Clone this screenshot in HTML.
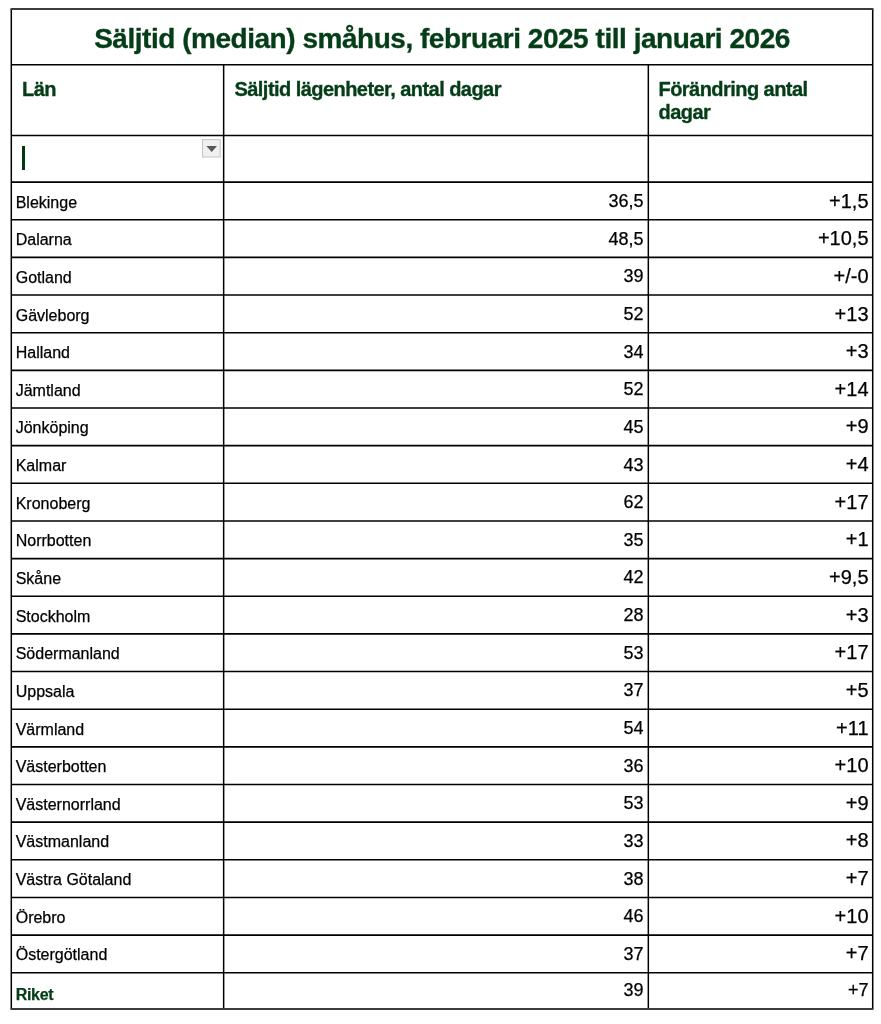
<!DOCTYPE html>
<html lang="sv">
<head>
<meta charset="utf-8">
<title>Säljtid (median) småhus, februari 2025 till januari 2026</title>
<style>
html,body{margin:0;padding:0;background:#fff;}
body{width:881px;height:1024px;overflow:hidden;position:relative;font-family:"Liberation Sans",Arial,sans-serif;color:#000;}
table{position:absolute;left:11px;top:9px;border-collapse:collapse;border-spacing:0;table-layout:fixed;width:862px;}
td,th{border:0;padding:0;margin:0;vertical-align:top;overflow:visible;white-space:nowrap;}
col.c1{width:212.5px}
col.c2{width:425px}
col.c3{width:224.5px}
td div,th div{line-height:20px;}
.title th{height:55.7px;font-size:28px;font-weight:bold;color:#043d17;letter-spacing:-0.47px;text-align:center;}
.title th div{padding-top:19.6px;}
.head th{height:70.8px;font-size:20px;font-weight:bold;color:#043d17;text-align:left;letter-spacing:-0.55px;}
.head th div{padding:13px 0 0 11px;line-height:23px;}
.head th.h3 div{padding-left:10px;}
.filter td{height:46.6px;position:relative;}
.cursor{position:absolute;left:11.1px;top:10.5px;width:3.3px;height:24px;background:#03380f;}
.dd{position:absolute;left:189px;top:1.5px;width:24px;height:24px;}
tr.r td{height:37.65px;}
tr.riket td{height:36.25px;}
td.n{font-size:16px;padding-left:4.7px;}
td.a{font-size:18px;text-align:right;padding-right:5px;}
td.b{font-size:20px;text-align:right;padding-right:4.5px;}
td.n div{padding-top:10.5px;}
td.a div{padding-top:9px;}
td.b div{padding-top:8.5px;}
tr.riket td.n{font-weight:bold;color:#043d17;letter-spacing:-0.3px;}
tr.riket td.b{font-size:18px;}
tr.riket td.n div{padding-top:12px;}
tr.riket td.a div,tr.riket td.b div{padding-top:7px;}
.title th,.head th{-webkit-text-stroke:0.35px currentColor;}
tr.r td{-webkit-text-stroke:0.25px currentColor;}
svg.grid{position:absolute;left:0;top:0;width:881px;height:1024px;pointer-events:none;}
</style>
</head>
<body>
<table>
<colgroup><col class="c1"><col class="c2"><col class="c3"></colgroup>
<tr class="title"><th colspan="3"><div>Säljtid (median) småhus, februari 2025 till januari 2026</div></th></tr>
<tr class="head"><th><div>Län</div></th><th><div>Säljtid lägenheter, antal dagar</div></th><th class="h3"><div>Förändring antal<br>dagar</div></th></tr>
<tr class="filter"><td><span class="cursor"></span><svg class="dd" viewBox="0 0 24 24"><rect x="2.5" y="2.6" width="17.7" height="17.4" fill="#f0f0f0" stroke="#c4c4c4" stroke-width="1"/><polygon points="6.4,8.9 17,8.9 11.7,15" fill="#585858"/></svg></td><td></td><td></td></tr>
<tr class="r"><td class="n"><div>Blekinge</div></td><td class="a"><div>36,5</div></td><td class="b"><div>+1,5</div></td></tr>
<tr class="r"><td class="n"><div>Dalarna</div></td><td class="a"><div>48,5</div></td><td class="b"><div>+10,5</div></td></tr>
<tr class="r"><td class="n"><div>Gotland</div></td><td class="a"><div>39</div></td><td class="b"><div>+/-0</div></td></tr>
<tr class="r"><td class="n"><div>Gävleborg</div></td><td class="a"><div>52</div></td><td class="b"><div>+13</div></td></tr>
<tr class="r"><td class="n"><div>Halland</div></td><td class="a"><div>34</div></td><td class="b"><div>+3</div></td></tr>
<tr class="r"><td class="n"><div>Jämtland</div></td><td class="a"><div>52</div></td><td class="b"><div>+14</div></td></tr>
<tr class="r"><td class="n"><div>Jönköping</div></td><td class="a"><div>45</div></td><td class="b"><div>+9</div></td></tr>
<tr class="r"><td class="n"><div>Kalmar</div></td><td class="a"><div>43</div></td><td class="b"><div>+4</div></td></tr>
<tr class="r"><td class="n"><div>Kronoberg</div></td><td class="a"><div>62</div></td><td class="b"><div>+17</div></td></tr>
<tr class="r"><td class="n"><div>Norrbotten</div></td><td class="a"><div>35</div></td><td class="b"><div>+1</div></td></tr>
<tr class="r"><td class="n"><div>Skåne</div></td><td class="a"><div>42</div></td><td class="b"><div>+9,5</div></td></tr>
<tr class="r"><td class="n"><div>Stockholm</div></td><td class="a"><div>28</div></td><td class="b"><div>+3</div></td></tr>
<tr class="r"><td class="n"><div>Södermanland</div></td><td class="a"><div>53</div></td><td class="b"><div>+17</div></td></tr>
<tr class="r"><td class="n"><div>Uppsala</div></td><td class="a"><div>37</div></td><td class="b"><div>+5</div></td></tr>
<tr class="r"><td class="n"><div>Värmland</div></td><td class="a"><div>54</div></td><td class="b"><div>+11</div></td></tr>
<tr class="r"><td class="n"><div>Västerbotten</div></td><td class="a"><div>36</div></td><td class="b"><div>+10</div></td></tr>
<tr class="r"><td class="n"><div>Västernorrland</div></td><td class="a"><div>53</div></td><td class="b"><div>+9</div></td></tr>
<tr class="r"><td class="n"><div>Västmanland</div></td><td class="a"><div>33</div></td><td class="b"><div>+8</div></td></tr>
<tr class="r"><td class="n"><div>Västra Götaland</div></td><td class="a"><div>38</div></td><td class="b"><div>+7</div></td></tr>
<tr class="r"><td class="n"><div>Örebro</div></td><td class="a"><div>46</div></td><td class="b"><div>+10</div></td></tr>
<tr class="r"><td class="n"><div>Östergötland</div></td><td class="a"><div>37</div></td><td class="b"><div>+7</div></td></tr>
<tr class="r riket"><td class="n"><div>Riket</div></td><td class="a"><div>39</div></td><td class="b"><div>+7</div></td></tr>
</table>
<svg class="grid" width="881" height="1024" viewBox="0 0 881 1024"><path d="M11.3 64.7H872.7 M11.3 135.5H872.7 M11.3 9.0V1009.0 M872.7 9.0V1009.0 M223.65 64.7V1009.0 M648.33 64.7V1009.0" stroke="#000" stroke-width="1.5" fill="none"/><path d="M11.3 182.1H872.7 M11.3 219.75H872.7 M11.3 257.4H872.7 M11.3 295.05H872.7 M11.3 332.7H872.7 M11.3 370.35H872.7 M11.3 408.0H872.7 M11.3 445.65H872.7 M11.3 483.3H872.7 M11.3 520.95H872.7 M11.3 558.6H872.7 M11.3 596.25H872.7 M11.3 633.9H872.7 M11.3 671.55H872.7 M11.3 709.2H872.7 M11.3 746.85H872.7 M11.3 784.5H872.7 M11.3 822.15H872.7 M11.3 859.8H872.7 M11.3 897.45H872.7 M11.3 935.1H872.7 M11.3 972.75H872.7" stroke="#000" stroke-width="1.6" fill="none"/><path d="M10.55 9.0H873.45 M10.55 1009.0H873.45" stroke="#3c3c3c" stroke-width="1.8" fill="none"/></svg>
</body>
</html>
